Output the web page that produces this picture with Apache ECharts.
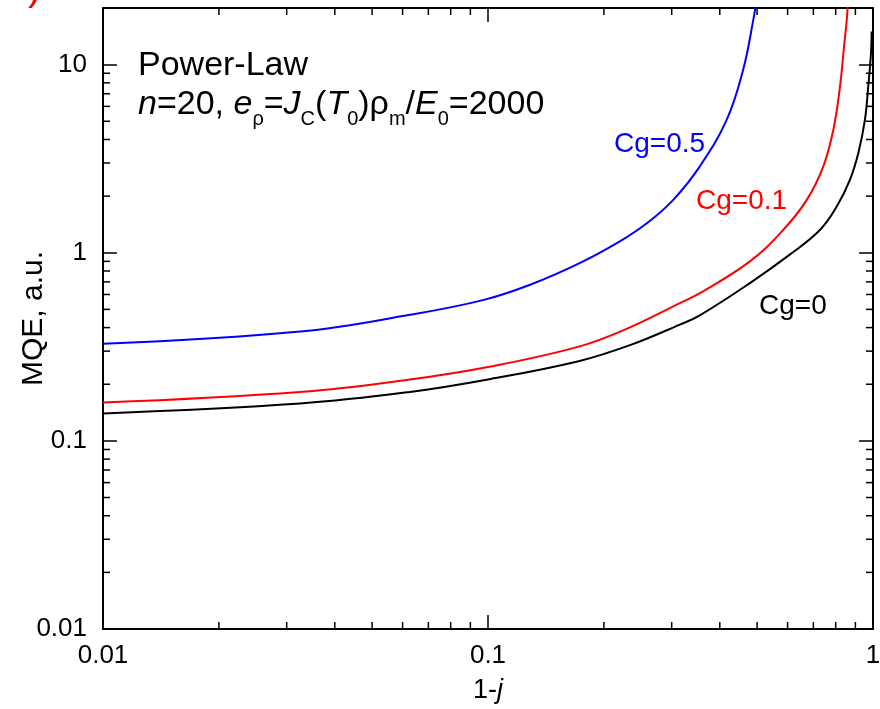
<!DOCTYPE html>
<html>
<head>
<meta charset="utf-8">
<script src="https://cdn.jsdelivr.net/npm/echarts@6/dist/echarts.min.js"></script>
<style>
  html, body { margin: 0; padding: 0; background: #fff; }
  #chart { width: 880px; height: 709px; }
</style>
</head>
<body>
<div id="chart"></div>
<script>
// 1-j values and MQE
var cg0X  = [0.01, 0.0325, 0.0627, 0.1, 0.173, 0.233, 0.315, 0.355, 0.479, 0.609, 0.729, 0.805, 0.871, 0.916, 0.953, 0.972, 0.988, 0.992];
var cg0Y  = [0.140, 0.158, 0.182, 0.212, 0.266, 0.322, 0.415, 0.465, 0.690, 0.980, 1.325, 1.76, 2.44, 3.39, 5.10, 7.67, 11.5, 15.0];
var cg01X = [0.01, 0.0325, 0.0627, 0.1, 0.173, 0.233, 0.315, 0.355, 0.479, 0.585, 0.673, 0.743, 0.789, 0.821, 0.841, 0.855, 0.862];
var cg01Y = [0.160, 0.182, 0.212, 0.247, 0.318, 0.400, 0.540, 0.610, 0.900, 1.325, 1.91, 2.88, 4.51, 7.67, 12.5, 17.4, 22];
var cg05X = [0.01, 0.0325, 0.0627, 0.097, 0.1286, 0.173, 0.220, 0.258, 0.302, 0.355, 0.417, 0.460, 0.489, 0.50];
var cg05Y = [0.328, 0.381, 0.468, 0.56, 0.676, 0.881, 1.15, 1.43, 1.90, 2.88, 5.10, 9.4, 17.4, 23];

var xMin = 0.01, xMax = 1, yMin = 0.01, yMax = 20;
var xMinorTicks = [0.02, 0.03, 0.04, 0.05, 0.06, 0.07, 0.08, 0.09, 0.2, 0.3, 0.4, 0.5, 0.6, 0.7, 0.8, 0.9];
var yMinorTicks = [0.02, 0.03, 0.04, 0.05, 0.06, 0.07, 0.08, 0.09, 0.2, 0.3, 0.4, 0.5, 0.6, 0.7, 0.8, 0.9,
                   2, 3, 4, 5, 6, 7, 8, 9];

function pairs(xs, ys) {
    return xs.map(function (x, i) { return [x, ys[i]]; });
}

function decadeLabel(v) {
    var l = Math.log10(v);
    if (Math.abs(l - Math.round(l)) > 1e-6) return '';
    return String(parseFloat(v.toPrecision(6)));
}

var FONT = 'Liberation Sans, Arial, sans-serif';

var minorData = xMinorTicks.map(function (v) { return [v, yMin, 0]; })
    .concat(yMinorTicks.map(function (v) { return [xMin, v, 1]; }));

function axisBase(extra) {
    var a = {
        type: 'log',
        logBase: 10,
        axisLine: { show: true, onZero: false, lineStyle: { color: '#000', width: 2 } },
        axisTick: { show: true, inside: true, length: 14, lineStyle: { color: '#000', width: 1.5 } },
        splitLine: { show: false },
        axisLabel: { show: false }
    };
    for (var k in extra) a[k] = extra[k];
    return a;
}

var option = {
    backgroundColor: '#fff',
    animation: false,
    grid: { left: 103, right: 7, top: 8, bottom: 80, containLabel: false, outerBoundsMode: 'none' },
    xAxis: [
        axisBase({
            min: xMin, max: xMax, position: 'bottom',
            axisLabel: { show: true, margin: 14, color: '#000', fontSize: 26, fontFamily: FONT, formatter: decadeLabel },
            name: '{a|1-}{b|j}',
            nameLocation: 'middle',
            nameGap: 48,
            nameMoveOverlap: false,
            nameTextStyle: {
                rich: {
                    a: { fontSize: 27, fontFamily: FONT, color: '#000' },
                    b: { fontSize: 27, fontFamily: FONT, fontStyle: 'italic', color: '#000' }
                }
            }
        }),
        axisBase({ min: xMin, max: xMax, position: 'top' })
    ],
    yAxis: [
        axisBase({
            min: yMin, max: yMax, position: 'left',
            axisLabel: { show: true, margin: 16, color: '#000', fontSize: 26, fontFamily: FONT, formatter: decadeLabel },
            name: 'MQE, a.u.',
            nameLocation: 'middle',
            nameGap: 54,
            nameMoveOverlap: false,
            nameTextStyle: { fontSize: 30, fontFamily: FONT, color: '#000' }
        }),
        axisBase({ min: yMin, max: yMax, position: 'right' })
    ],
    series: [
        {
            name: 'Cg=0', type: 'line', data: pairs(cg0X, cg0Y),
            showSymbol: false, smooth: 0.4, lineStyle: { color: '#000', width: 2 }, z: 3
        },
        {
            name: 'Cg=0.1', type: 'line', data: pairs(cg01X, cg01Y),
            showSymbol: false, smooth: 0.4, lineStyle: { color: '#ff0000', width: 2 }, z: 3
        },
        {
            name: 'Cg=0.5', type: 'line', data: pairs(cg05X, cg05Y),
            showSymbol: false, smooth: 0.4, lineStyle: { color: '#0000ff', width: 2 }, z: 3
        },
        {
            // minor ticks on all four sides
            type: 'custom',
            data: minorData,
            encode: { x: 0, y: 1 },
            silent: true,
            clip: false,
            z: 4,
            renderItem: function (params, api) {
                var v = api.value(0), w = api.value(1), kind = api.value(2);
                var style = { stroke: '#000', lineWidth: 1.5 };
                var a, b;
                if (kind === 0) {
                    a = api.coord([v, yMin]);
                    b = api.coord([v, yMax]);
                    return { type: 'group', children: [
                        { type: 'line', shape: { x1: a[0], y1: a[1], x2: a[0], y2: a[1] - 7 }, style: style },
                        { type: 'line', shape: { x1: b[0], y1: b[1], x2: b[0], y2: b[1] + 7 }, style: style }
                    ] };
                }
                a = api.coord([xMin, w]);
                b = api.coord([xMax, w]);
                return { type: 'group', children: [
                    { type: 'line', shape: { x1: a[0], y1: a[1], x2: a[0] + 7, y2: a[1] }, style: style },
                    { type: 'line', shape: { x1: b[0], y1: b[1], x2: b[0] - 7, y2: b[1] }, style: style }
                ] };
            }
        }
    ],
    graphic: [
        {
            type: 'text', left: 138, top: 49,
            style: { text: 'Power-Law', font: '34px ' + FONT, fill: '#000' }
        },
        {
            type: 'text', left: 138, top: 88,
            style: {
                text: '{i|n}{r|=20, }{i|e}{s|ρ}{r|=}{i|J}{s|C}{r|(}{i|T}{s|0}{r|)ρ}{s|m}{r|/}{i|E}{s|0}{r|=2000}',
                rich: {
                    r: { fontSize: 34, fontFamily: FONT, fill: '#000', lineHeight: 48, verticalAlign: 'middle' },
                    i: { fontSize: 34, fontFamily: FONT, fontStyle: 'italic', fill: '#000', lineHeight: 48, verticalAlign: 'middle' },
                    s: { fontSize: 20, fontFamily: FONT, fill: '#000', lineHeight: 20, verticalAlign: 'bottom' }
                }
            }
        },
        { type: 'text', left: 614, top: 130, style: { text: 'Cg=0.5', font: '28px ' + FONT, fill: '#0000ff' } },
        { type: 'text', left: 696, top: 187, style: { text: 'Cg=0.1', font: '28px ' + FONT, fill: '#ff0000' } },
        { type: 'text', left: 759, top: 292, style: { text: 'Cg=0', font: '28px ' + FONT, fill: '#000' } },
        { type: 'text', left: 28, top: -31, style: { text: ')', font: '40px ' + FONT, fill: '#ff0000' } }
    ]
};

echarts.init(document.getElementById('chart'), null, { renderer: 'canvas' }).setOption(option);
</script>
</body>
</html>
